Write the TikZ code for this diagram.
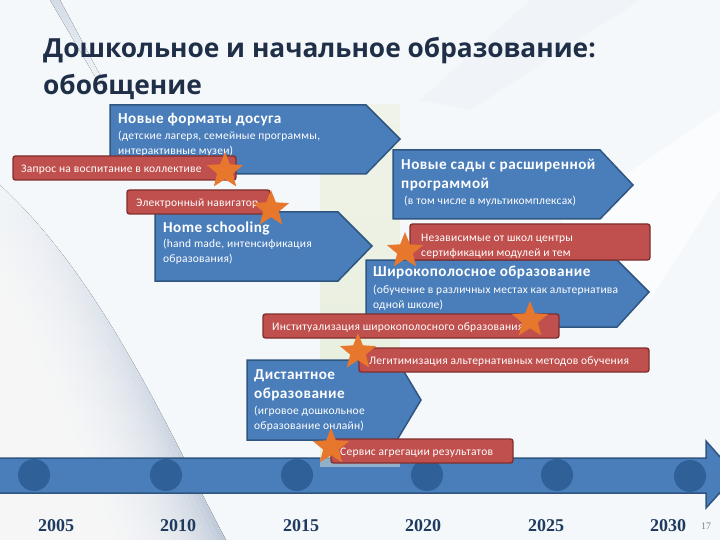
\documentclass[tikz,border=0pt]{standalone}
\usepackage{fontspec}
\setmainfont{Carlito}
\newfontfamily\titlefont{Open Sans}
\newfontfamily\headfont[LetterSpace=3]{Carlito}
\newfontfamily\smallfont[LetterSpace=2]{Carlito}
\newfontfamily\yearfont{Liberation Serif}
\usetikzlibrary{shapes.geometric}
\definecolor{bgcol}{HTML}{F5F8FB}
\definecolor{bandtop}{HTML}{F0F3E8}
\definecolor{bandbot}{HTML}{E6EEDC}
\definecolor{bluefill}{HTML}{4A7EBB}
\definecolor{blueedge}{HTML}{2F5581}
\definecolor{redfill}{HTML}{C0504D}
\definecolor{rededge}{HTML}{7F2F2D}
\definecolor{dotfill}{HTML}{2F6097}
\definecolor{starfill}{HTML}{E8772E}
\definecolor{yearcol}{HTML}{1F3A5F}
\definecolor{titlecol}{HTML}{1F2F48}
\definecolor{streak}{HTML}{D3DBE6}
\definecolor{swooshtop}{HTML}{F1F4F8}
\definecolor{swooshbot}{HTML}{BFCAD9}
\definecolor{faintband}{HTML}{F0F3F7}
\tikzset{
  x=1pt,y=-1pt,
  blueshape/.style={fill=bluefill,draw=blueedge,line width=1.5pt,line join=miter},
  redbox/.style={fill=redfill,draw=rededge,line width=1.4pt,rounded corners=2.5pt},
  starshape/.style={star,star points=5,star point ratio=2.3,fill=starfill,draw=none,minimum size=#1,inner sep=0pt},
  head/.style={font=\headfont\bfseries\fontsize{15.2}{19}\selectfont,text=white,anchor=north west,align=left,inner sep=0pt},
  sub/.style={font=\smallfont\fontsize{11.5}{14.5}\selectfont,text=white,anchor=north west,align=left,inner sep=0pt},
  redlabel/.style={font=\smallfont\fontsize{11.5}{14.5}\selectfont,text=white,anchor=west,align=left,inner sep=0pt},
  dot/.style={circle,fill=dotfill,draw=none,minimum size=32pt,inner sep=0pt},
  yearlabel/.style={font=\yearfont\bfseries\fontsize{18}{20}\selectfont,text=yearcol,inner sep=0pt}
}
\begin{document}
\begin{tikzpicture}
\useasboundingbox (0,0) rectangle (720,540);
\clip (0,0) rectangle (720,540);
% backdrop
\fill[bgcol] (0,0) rectangle (720,540);
% upper streaks
\fill[top color=streak,bottom color=bgcol] (50,0) -- (60,0) -- (108,90) -- (100,85) -- cycle;
\fill[faintband] (420,100) -- (530,0) -- (640,0) -- (470,110) -- cycle;
\fill[white!60!bgcol] (560,220) -- (720,110) -- (720,190) -- (650,300) -- cycle;
% swoosh with a soft inner side
\fill[top color=swooshtop,bottom color=swooshbot] (0,185) .. controls (70,250) and (125,340) .. (190,470) .. controls (205,500) and (218,525) .. (226,540) -- (0,540) -- cycle;
\foreach \k in {1,...,26}{
  \fill[white,opacity=.11,shift={(-\k*3.5,\k*3.5)}] (0,185) .. controls (70,250) and (125,340) .. (190,470) .. controls (205,500) and (218,525) .. (226,540) -- (226,640) -- (-100,640) -- (-100,185) -- cycle;
}
% pale band
\fill[top color=bandtop,bottom color=bandbot] (320,105) rectangle (400,467);
% timeline
\path[blueshape] (-5,458) -- (706,458) -- (706,441) -- (736,475) -- (706,508) -- (706,493) -- (-5,493) -- cycle;
\node[dot] (d05) at (34,475) {};
\node[dot] (d10) at (166,475) {};
\node[dot] (d15) at (297,475) {};
\node[dot] (d20) at (427,475) {};
\node[dot] (d25) at (557,475) {};
\node[dot] (d30) at (690,476) {};
% band where it lies over the timeline
\fill[bandbot,opacity=.45] (320,457) rectangle (400,467);
% arrows
\path[blueshape] (110,105) -- (366,105) -- (400,139) -- (366,174) -- (110,174) -- cycle;
\node[head] (h1) at (118,113) {Новые форматы досуга};
\node[sub] (s1) at (118,131) {(детские лагеря, семейные программы,\\интерактивные музеи)};
\path[blueshape] (393,150) -- (600,150) -- (633,185) -- (600,219) -- (393,219) -- cycle;
\node[head] (h2) at (401,159) {Новые сады с расширенной\\программой};
\node[sub] (s2) at (404,196) {(в том числе в мультикомплексах)};
\path[blueshape] (155,212) -- (338,212) -- (372,246) -- (338,281) -- (155,281) -- cycle;
\node[head] (h3) at (163,222) {Home schooling};
\node[sub] (s3) at (163,239) {(hand made, интенсификация\\образования)};
\path[blueshape] (366,260) -- (617,260) -- (649,292) -- (617,327) -- (366,327) -- cycle;
\node[head] (h4) at (373,266) {Широкополосное образование};
\node[sub] (s4) at (373,285) {(обучение в различных местах как альтернатива\\одной школе)};
\path[blueshape] (247,360) -- (397,360) -- (421,400) -- (397,440) -- (247,440) -- cycle;
\node[head] (h5) at (254,369) {Дистантное\\образование};
\node[sub] (s5) at (254,406) {(игровое дошкольное\\образование онлайн)};
% red boxes
\path[redbox] (13,156) rectangle (236,180);
\node[redlabel] (r1) at (21,170) {Запрос на воспитание в коллективе};
\path[redbox] (127,190) rectangle (270,214);
\node[redlabel] (r2) at (136,204) {Электронный навигатор};
\path[redbox] (410,224) rectangle (650,260);
\node[sub] (r3) at (421,234) {Независимые от школ центры\\сертификации модулей и тем};
\path[redbox] (263,314) rectangle (559,338);
\node[redlabel] (r4) at (272,328) {Институализация широкополосного образования};
\path[redbox] (359,348) rectangle (649,372);
\node[redlabel] (r5) at (369,362) {Легитимизация альтернативных методов обучения};
\path[redbox] (331,439) rectangle (513,463);
\node[redlabel] (r6) at (340,453) {Сервис агрегации результатов};
% stars
\node[starshape=38pt] (st1) at (225,171) {};
\node[starshape=38pt] (st2) at (271,209) {};
\node[starshape=38pt] (st3) at (405,251) {};
\node[starshape=38pt] (st4) at (530,320) {};
\node[starshape=38pt] (st5) at (358,352) {};
\node[starshape=38pt] (st6) at (331,447) {};
% title
\node[font=\titlefont\bfseries\fontsize{26.3}{37}\selectfont,text=titlecol,anchor=north west,align=left,inner sep=0pt] (title) at (43,37) {Дошкольное и начальное образование:\\обобщение};
% years
\node[yearlabel] (y05) at (56,526) {2005};
\node[yearlabel] (y10) at (178,526) {2010};
\node[yearlabel] (y15) at (301,526) {2015};
\node[yearlabel] (y20) at (423,526) {2020};
\node[yearlabel] (y25) at (546,526) {2025};
\node[yearlabel] (y30) at (668,526) {2030};
\node[font=\yearfont\fontsize{10}{12}\selectfont,text=gray,inner sep=0pt] (pg) at (706,526) {17};
\end{tikzpicture}
\end{document}
